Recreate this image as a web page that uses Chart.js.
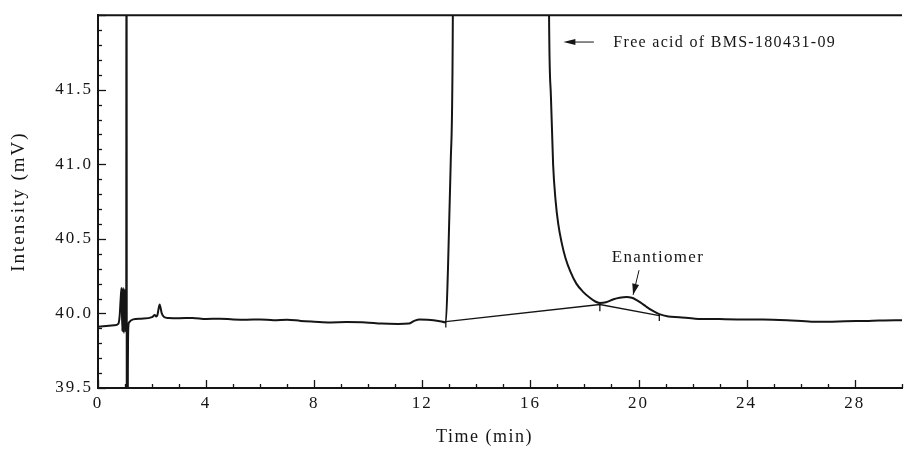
<!DOCTYPE html>
<html lang="en">
<head>
  <meta charset="UTF-8">
  <title>Chromatogram</title>
  <script src="https://cdn.jsdelivr.net/npm/chart.js"></script>
  <style>
    body {
      margin: 0;
      background: #ffffff;
    }
    canvas {
      display: block;
    }
  </style>
</head>
<body>
  <canvas id="chrom" width="907" height="449"></canvas>

  <script>
    // retention time (min) and detector signal (mV)
    const timeMin = [
      0, 0.3, 0.6, 0.75, 0.8, 0.84, 0.87, 0.9, 0.93, 0.96, 0.99, 1.02, 1.045,
      1.052, 1.058, 1.064, 1.08, 1.095, 1.105, 1.12, 1.15, 1.3, 1.6, 2.0, 2.1,
      2.15, 2.2, 2.28, 2.36, 2.45, 2.6, 3.0, 3.5, 4.0, 4.5, 5.0, 5.5, 6.0, 6.5,
      7.0, 7.5, 8.0, 8.6, 9.2, 9.9, 10.5, 11.1, 11.5, 11.7, 11.9, 12.2, 12.6,
      12.87, 12.95, 13.05, 13.13, 13.16, 16.64, 16.69, 16.76, 16.84, 16.93,
      17.03, 17.15, 17.3, 17.48, 17.7, 17.95, 18.2, 18.4, 18.57, 18.8, 19.08,
      19.3, 19.56, 19.75, 19.93, 20.1, 20.29, 20.5, 20.77, 21.1, 21.5, 22.1,
      23.0, 24.0, 24.6, 25.5, 26.4, 27.0, 27.65, 28.5, 29.5, 29.75
    ];
    const signalMv = [
      39.91, 39.915, 39.92, 39.93, 39.98, 40.1, 40.17, 39.88, 40.17, 39.87,
      40.16, 39.88, 40.0,
      43.0, 43.0, 39.4, 38.8, 38.8, 39.6, 39.9, 39.94, 39.96, 39.965, 39.975, 39.99,
      39.98, 39.99, 40.06, 40.0, 39.975, 39.97, 39.968, 39.97, 39.963, 39.965, 39.96, 39.958, 39.96, 39.955,
      39.958, 39.95, 39.945, 39.94, 39.942, 39.94, 39.932, 39.93, 39.932, 39.95, 39.96, 39.958, 39.95,
      39.94, 40.3, 41.0, 42.0, 44.0, 44.0, 42.0, 41.45, 41.0, 40.76,
      40.6, 40.48, 40.37, 40.28, 40.2, 40.145, 40.105, 40.08, 40.07, 40.075, 40.095,
      40.105, 40.11, 40.105, 40.09, 40.07, 40.045, 40.02, 39.995, 39.98, 39.975, 39.965,
      39.962, 39.96, 39.96, 39.955, 39.945, 39.945, 39.948, 39.95, 39.955, 39.955
    ];

    // integration baselines (drop points of the two peaks)
    const baseTime = [12.87, 18.57, 20.77];
    const baseMv = [39.945, 40.06, 39.985];
    // small drop marks under the integration points
    const dropTop = [39.945, 40.058, 39.995];
    const dropBottom = [39.905, 40.015, 39.95];

    const xTickLabels = ['0', '4', '8', '12', '16', '20', '24', '28'];
    const yTickLabels = ['39.5', '40.0', '40.5', '41.0', '41.5'];

    const xTitle = 'Time (min)';
    const freeAcidText = 'Free acid of BMS-180431-09';
    const enantiomerText = 'Enantiomer';

    const ink = '#151515';
    const serif = "'Liberation Serif', 'DejaVu Serif', serif";

    const tracePoints = timeMin.map((t, i) => ({ x: t, y: signalMv[i] }));
    const basePoints = baseTime.map((t, i) => ({ x: t, y: baseMv[i] }));
    const dropSets = baseTime.map((t, i) => ({
      data: [{ x: t, y: dropTop[i] }, { x: t, y: dropBottom[i] }],
      borderColor: ink,
      borderWidth: 1.3,
      pointRadius: 0,
      tension: 0
    }));

    function arrowHead(ctx, x0, y0, x1, y1, len, half) {
      const a = Math.atan2(y1 - y0, x1 - x0);
      ctx.beginPath();
      ctx.moveTo(x1, y1);
      ctx.lineTo(x1 - len * Math.cos(a) + half * Math.sin(a), y1 - len * Math.sin(a) - half * Math.cos(a));
      ctx.lineTo(x1 - len * Math.cos(a) - half * Math.sin(a), y1 - len * Math.sin(a) + half * Math.cos(a));
      ctx.closePath();
      ctx.fill();
    }

    const frameAndNotes = {
      id: 'frameAndNotes',
      beforeDraw(chart) {
        chart.ctx.letterSpacing = '2px';
      },
      afterDraw(chart) {
        const { ctx, chartArea, scales: { x, y } } = chart;
        ctx.save();
        ctx.strokeStyle = ink;
        ctx.fillStyle = ink;

        // top frame line
        ctx.lineWidth = 2;
        ctx.beginPath();
        ctx.moveTo(chartArea.left, chartArea.top);
        ctx.lineTo(chartArea.right, chartArea.top);
        ctx.stroke();

        // inward tick marks
        ctx.lineWidth = 1.3;
        y.ticks.forEach(tk => {
          const py = Math.round(y.getPixelForValue(tk.value)) + 0.5;
          const major = Math.abs(tk.value * 2 - Math.round(tk.value * 2)) < 1e-6;
          ctx.beginPath();
          ctx.moveTo(chartArea.left, py);
          ctx.lineTo(chartArea.left + (major ? 8 : 4), py);
          ctx.stroke();
        });
        x.ticks.forEach(tk => {
          const px = Math.round(x.getPixelForValue(tk.value)) + 0.5;
          const major = tk.value % 4 === 0;
          ctx.beginPath();
          ctx.moveTo(px, chartArea.bottom);
          ctx.lineTo(px, chartArea.bottom - (major ? 8 : 4));
          ctx.stroke();
        });

        // x axis title
        ctx.font = '18px ' + serif;
        ctx.letterSpacing = '1.5px';
        ctx.textAlign = 'center';
        ctx.textBaseline = 'middle';
        ctx.fillText(xTitle, x.getPixelForValue(14.3), 437);

        // free acid arrow and label
        const ay = y.getPixelForValue(41.82);
        const ax0 = x.getPixelForValue(18.35);
        const ax1 = x.getPixelForValue(17.22);
        ctx.lineWidth = 1;
        ctx.beginPath();
        ctx.moveTo(ax0, ay);
        ctx.lineTo(ax1 + 6, ay);
        ctx.stroke();
        arrowHead(ctx, ax0, ay, ax1, ay, 12, 3);
        ctx.font = '16px ' + serif;
        ctx.letterSpacing = '1.3px';
        ctx.textAlign = 'left';
        ctx.fillText(freeAcidText, x.getPixelForValue(19.07), ay + 1);

        // enantiomer arrow and label
        const ex0 = x.getPixelForValue(20.02), ey0 = y.getPixelForValue(40.29);
        const ex1 = x.getPixelForValue(19.8), ey1 = y.getPixelForValue(40.125);
        ctx.beginPath();
        ctx.moveTo(ex0, ey0);
        ctx.lineTo(ex1, ey1);
        ctx.stroke();
        arrowHead(ctx, ex0, ey0, ex1, ey1, 11, 3.5);
        ctx.font = '17px ' + serif;
        ctx.letterSpacing = '1.3px';
        ctx.textAlign = 'center';
        ctx.fillText(enantiomerText, x.getPixelForValue(20.72), y.getPixelForValue(40.375));
        ctx.restore();
      }
    };

    new Chart(document.getElementById('chrom'), {
      type: 'line',
      data: {
        datasets: [
          {
            data: tracePoints,
            borderColor: ink,
            borderWidth: 2,
            pointRadius: 0,
            cubicInterpolationMode: 'monotone'
          },
          {
            data: basePoints,
            borderColor: ink,
            borderWidth: 1.4,
            pointRadius: 0,
            tension: 0
          },
          ...dropSets
        ]
      },
      options: {
        responsive: false,
        animation: false,
        devicePixelRatio: 1,
        layout: { padding: { top: 14, right: 0, left: 0, bottom: 0 } },
        plugins: {
          legend: { display: false },
          tooltip: { enabled: false }
        },
        scales: {
          x: {
            type: 'linear',
            min: 0,
            max: 29.75,
            grid: { display: false, drawTicks: false },
            border: { display: true, color: ink, width: 2 },
            ticks: {
              stepSize: 1,
              autoSkip: false,
              maxRotation: 0,
              padding: 5,
              color: ink,
              font: { family: serif, size: 17 },
              callback: v => (v % 4 === 0 ? xTickLabels[v / 4] : '')
            },
            afterFit: s => { s.height = 61; }
          },
          y: {
            min: 39.5,
            max: 42.0,
            grid: { display: false, drawTicks: false },
            border: { display: true, color: ink, width: 2 },
            ticks: {
              stepSize: 0.1,
              autoSkip: false,
              padding: 5,
              color: ink,
              font: { family: serif, size: 17 },
              callback: v => {
                const k = Math.round((v - 39.5) * 2 * 1000) / 1000;
                return Number.isInteger(k) && k < yTickLabels.length ? yTickLabels[k] : '';
              }
            },
            title: {
              display: true,
              text: 'Intensity (mV)',
              color: ink,
              font: { family: serif, size: 19 },
              padding: { top: 8, bottom: 0 }
            },
            afterFit: s => { s.width = 98; }
          }
        }
      },
      plugins: [frameAndNotes]
    });
  </script>
</body>
</html>
